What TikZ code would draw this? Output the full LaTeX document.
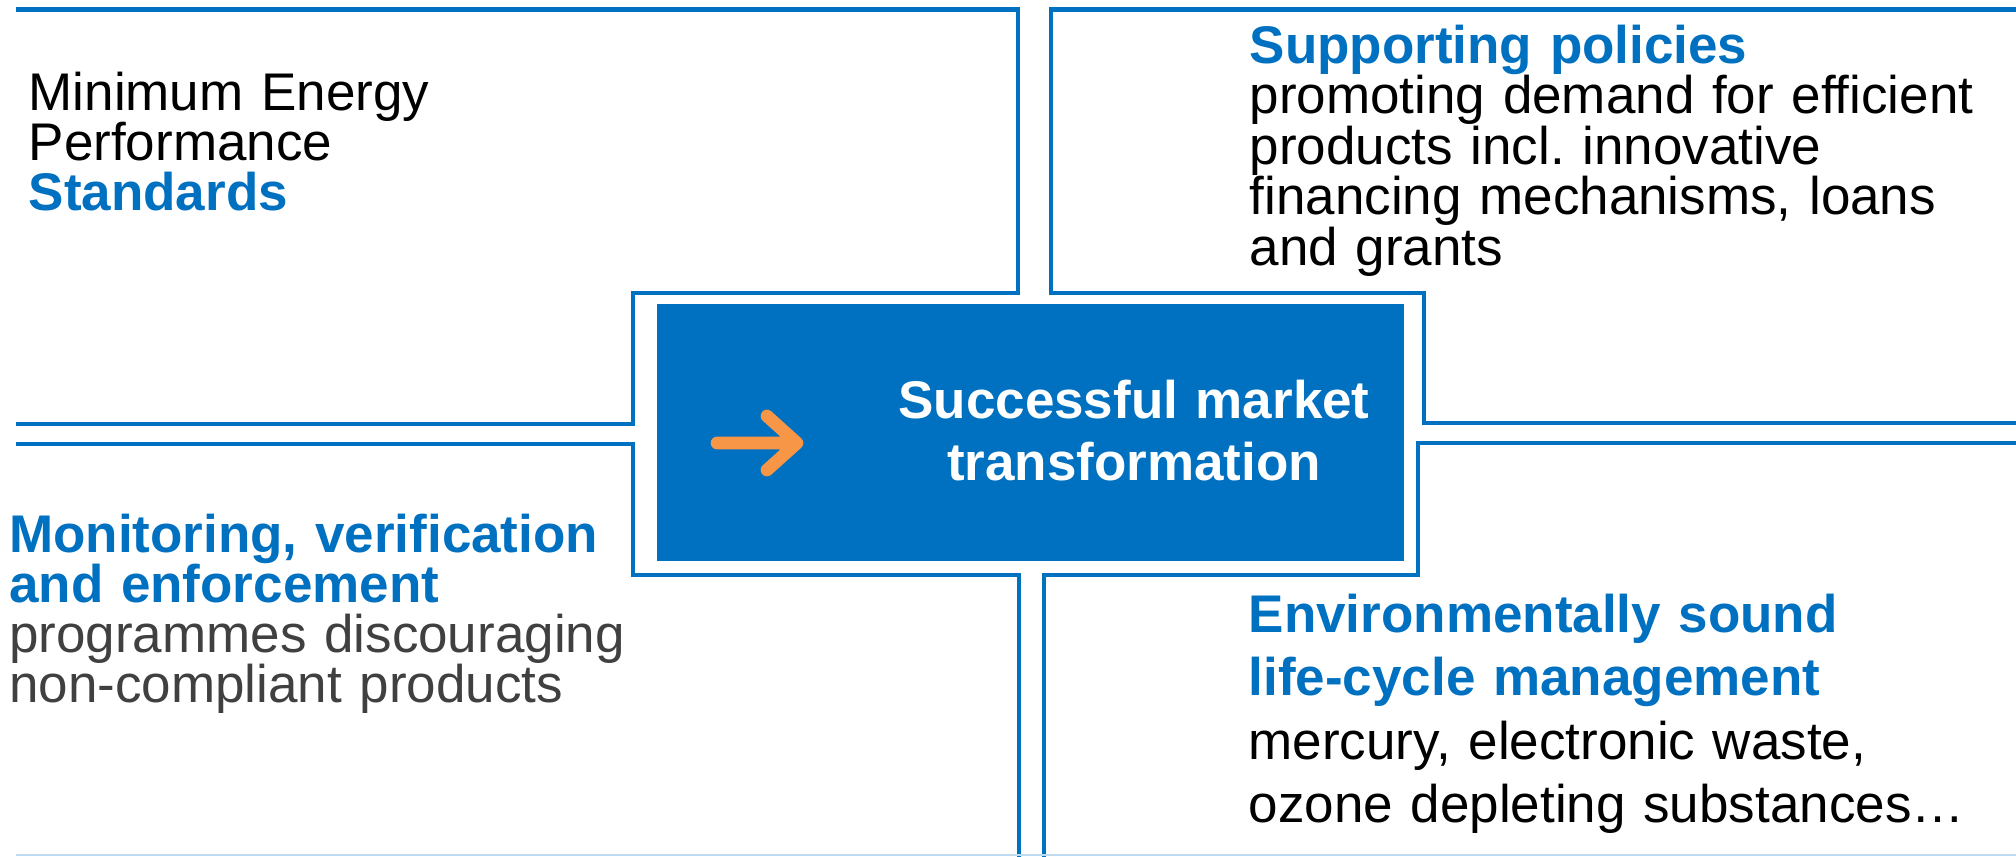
\documentclass[tikz,border=0pt]{standalone}
\usepackage{fontspec}
\setmainfont{Liberation Sans}
\usepackage{xcolor}
\usepackage{tikz}
\usetikzlibrary{positioning}
\definecolor{mktblue}{RGB}{0,112,192}
\definecolor{mktorange}{RGB}{247,150,70}
\definecolor{mktgrey}{RGB}{64,64,64}
\newcommand{\quadfont}[1]{\fontsize{5.3mm}{#1}\selectfont\lineskiplimit=-\maxdimen}
\frenchspacing

\begin{document}
\begin{tikzpicture}[x=0.1mm, y=-0.1mm,
    frame/.style={draw=mktblue, line width=0.46mm, line join=miter},
    blurb/.style={anchor=base west, inner sep=0pt, text width=76mm, align=left}]
  \useasboundingbox (0,0) rectangle (2016,856);

  % Quadrant frames
  \draw[frame] (16,9.5) -- (1018,9.5) -- (1018,293) -- (633,293) -- (633,424) -- (16,424);
  \draw[frame] (2016,9.5) -- (1051,9.5) -- (1051,293) -- (1424,293) -- (1424,423) -- (2016,423);
  \draw[frame] (16,444) -- (633,444) -- (633,575) -- (1019,575) -- (1019,860);
  \draw[frame] (1044,860) -- (1044,575) -- (1418,575) -- (1418,443) -- (2016,443);
  \draw[mktblue!25, line width=0.15mm] (16,855) -- (2016,855);

  % Centre box
  \node[fill=mktblue, minimum width=74.7mm, minimum height=25.7mm, inner sep=0pt] (core) at (1030.5,432.5) {};
  \node[anchor=base, inner sep=0pt, text width=70mm, align=center, text=white,
        font={\bfseries\quadfont{6.2mm}}] (goal) at (1134,418) {Successful market\\transformation};

  % Orange arrow
  \draw[mktorange, line width=1.27mm, line cap=round, line join=round]
    (717,443) -- (794,443) (767,416) -- (797,443) -- (767,470);

  % Quadrant texts
  \node[blurb, font=\quadfont{5mm}] (mepstext) at (28,110)
    {Minimum Energy\\Performance\\\textcolor{mktblue}{\bfseries Standards}};
  \node[blurb, font=\quadfont{5.05mm}] (poltext) at (1249,63)
    {\textcolor{mktblue}{\bfseries Supporting policies}\\promoting demand for efficient\\products incl. innovative\\financing mechanisms, loans\\and grants};
  \node[blurb, font=\quadfont{5.03mm}] (montext) at (8.5,552)
    {\textcolor{mktblue}{\bfseries Monitoring, verification}\\\textcolor{mktblue}{\bfseries and enforcement}\\\textcolor{mktgrey}{programmes discouraging}\\\textcolor{mktgrey}{non-compliant products}};
  \node[blurb, font=\quadfont{6.35mm}] (envtext) at (1248,632)
    {\textcolor{mktblue}{\bfseries Environmentally sound}\\\textcolor{mktblue}{\bfseries life-cycle management}\\mercury, electronic waste,\\ozone depleting substances…};
\end{tikzpicture}
\end{document}
